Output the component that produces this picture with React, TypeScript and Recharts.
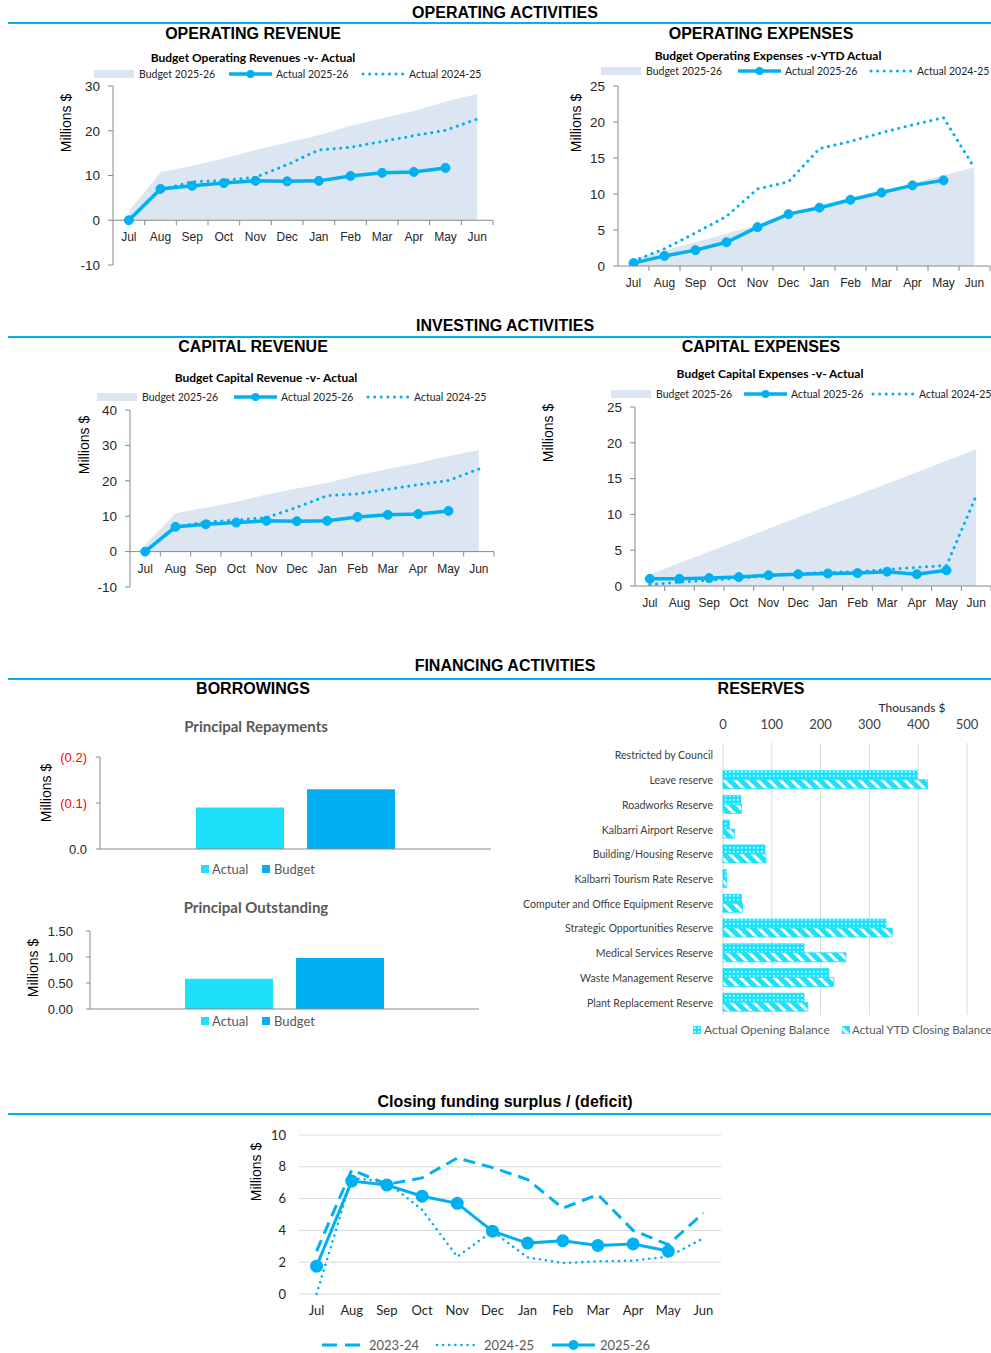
import React from "react";
import {
  ComposedChart, Area, Line, XAxis, YAxis, ReferenceLine,
  BarChart, Bar, CartesianGrid, LineChart,
} from "recharts";

const BLUE = "#00B0F0";
const CYAN = "#1FE0FA";
const BUDGET_FILL = "#DCE6F2";
const AXIS = "#898989";
const GRID = "#D9D9D9";
const ARIAL = '"Liberation Sans", Arial, sans-serif';
const CAL = 'Lato, "Open Sans", sans-serif';

const MONTHS = ["Jul", "Aug", "Sep", "Oct", "Nov", "Dec", "Jan", "Feb", "Mar", "Apr", "May", "Jun"];

// Operating revenue ($M)
const OPREV_BUDGET = [2, 10.7, 12.2, 13.8, 15.7, 17.4, 19.0, 21.1, 22.8, 24.4, 26.5, 28.2];
const OPREV_ACTUAL = [0, 7.0, 7.7, 8.3, 8.8, 8.7, 8.8, 9.9, 10.6, 10.8, 11.7, null];
const OPREV_PRIOR = [0, 6.8, 8.6, 8.9, 9.6, 12.4, 15.7, 16.3, 17.6, 18.9, 20.1, 22.6];

// Operating expenses ($M)
const OPEXP_BUDGET = [1.0, 2.2, 3.3, 4.5, 5.7, 6.8, 8.0, 9.2, 10.3, 11.5, 12.6, 13.7];
const OPEXP_ACTUAL = [0.4, 1.4, 2.2, 3.3, 5.4, 7.2, 8.1, 9.2, 10.2, 11.2, 11.9, null];
const OPEXP_PRIOR = [0.7, 2.4, 4.6, 6.9, 10.7, 11.7, 16.3, 17.3, 18.5, 19.6, 20.6, 13.6];

// Capital revenue ($M)
const CAPREV_BUDGET = [2, 10.8, 12.4, 14.1, 16.1, 17.8, 19.4, 21.6, 23.3, 25.0, 27.0, 28.7];
const CAPREV_ACTUAL = [0, 7.0, 7.7, 8.2, 8.7, 8.6, 8.7, 9.8, 10.4, 10.6, 11.5, null];
const CAPREV_PRIOR = [0, 6.9, 8.4, 8.9, 9.6, 12.5, 15.8, 16.3, 17.6, 18.9, 20.1, 23.3];

// Capital expenses ($M)
const CAPEXP_BUDGET = [1.6, 3.2, 4.8, 6.4, 8.0, 9.6, 11.2, 12.7, 14.3, 15.9, 17.5, 19.1];
const CAPEXP_ACTUAL = [1.0, 1.0, 1.1, 1.25, 1.5, 1.65, 1.75, 1.8, 2.0, 1.65, 2.2, null];
const CAPEXP_PRIOR = [0.2, 0.55, 0.8, 1.1, 1.4, 1.7, 1.9, 2.0, 2.3, 2.6, 2.85, 12.6];

// Borrowings ($M)
const REPAY_ACTUAL = -0.09;
const REPAY_BUDGET = -0.13;
const OUTSTANDING_ACTUAL = 0.58;
const OUTSTANDING_BUDGET = 0.98;

// Reserves (thousands $)
const RESERVE_NAMES = [
  "Restricted by Council", "Leave reserve", "Roadworks Reserve", "Kalbarri Airport Reserve",
  "Building/Housing Reserve", "Kalbarri Tourism Rate Reserve", "Computer and Office Equipment Reserve",
  "Strategic Opportunities Reserve", "Medical Services Reserve", "Waste Management Reserve",
  "Plant Replacement Reserve",
];
const RESERVE_OPENING = [null, 398, 36, 13, 86, 7, 38, 334, 166, 217, 166];
const RESERVE_CLOSING = [null, 419, 38, 24, 88, 8, 40, 347, 252, 227, 174];

// Closing funding surplus ($M)
const CF_2324 = [2.7, 7.8, 6.9, 7.3, 8.55, 7.95, 7.2, 5.4, 6.25, 4.0, 3.1, 5.1];
const CF_2425 = [0, 7.3, 7.05, 5.3, 2.35, 3.95, 2.3, 1.95, 2.05, 2.1, 2.35, 3.5];
const CF_2526 = [1.75, 7.1, 6.85, 6.15, 5.7, 3.95, 3.2, 3.35, 3.05, 3.15, 2.7, null];

const abs = (left: number, top: number): React.CSSProperties => ({ position: "absolute", left, top });

function Txt({ cx, cy, size, bold, color = "#000", font = ARIAL, children }: any) {
  return (
    <div style={{
      position: "absolute", left: cx, top: cy, transform: "translate(-50%,-50%)",
      whiteSpace: "nowrap", fontSize: size, fontWeight: bold ? 700 : 400, color, fontFamily: font, lineHeight: 1,
    }}>{children}</div>
  );
}

function VLabel({ cx, cy }: { cx: number; cy: number }) {
  return (
    <div style={{
      position: "absolute", left: cx, top: cy, transform: "translate(-50%,-50%) rotate(-90deg)",
      whiteSpace: "nowrap", fontSize: 14, fontFamily: ARIAL, color: "#000", lineHeight: 1,
    }}>Millions $</div>
  );
}

function Rule({ top }: { top: number }) {
  return <div style={{ position: "absolute", left: 8, top, width: 983, height: 1.5, background: BLUE }} />;
}

// offsets: start of the 2nd and 3rd legend swatches, relative to the first
function TrioLegend({ left, cy, o2 = 135, o3 = 269 }: { left: number; cy: number; o2?: number; o3?: number }) {
  const t: React.CSSProperties = { position: "absolute", top: 0, fontSize: 10.5, fontFamily: CAL, color: "#262626", lineHeight: "12px", whiteSpace: "nowrap" };
  return (
    <div style={{ position: "absolute", left, top: cy - 6, width: 400, height: 12 }}>
      <svg width={340} height={12} style={{ position: "absolute", left: 0, top: 0 }}>
        <rect x={0} y={2} width={40} height={8} fill={BUDGET_FILL} />
        <line x1={o2} x2={o2 + 43} y1={6} y2={6} stroke={BLUE} strokeWidth={3.5} />
        <circle cx={o2 + 21.5} cy={6} r={4} fill={BLUE} />
        <line x1={o3} x2={o3 + 41} y1={6} y2={6} stroke={BLUE} strokeWidth={3} strokeDasharray="0.1 6.5" strokeLinecap="round" />
      </svg>
      <span style={{ ...t, left: 45 }}>Budget 2025-26</span>
      <span style={{ ...t, left: o2 + 47 }}>Actual 2025-26</span>
      <span style={{ ...t, left: o3 + 46 }}>Actual 2024-25</span>
    </div>
  );
}

function MonthTick(props: any) {
  const { x, y, payload, dy, band, markY } = props;
  return (
    <g>
      <text x={x} y={y + dy} textAnchor="middle" dominantBaseline="central" fontSize={12} fontFamily={ARIAL} fill="#262626">
        {payload.value}
      </text>
      <line x1={x + band / 2} x2={x + band / 2} y1={y + markY} y2={y + markY + 5} stroke={AXIS} />
    </g>
  );
}

function TrendChart({ left, top, width, height, yWidth, margin, xHeight, domain, ticks, budget, actual, prior }: any) {
  const data = MONTHS.map((m, i) => ({ month: m, budget: budget[i], actual: actual[i], prior: prior[i] }));
  const plotH = height - margin.top - margin.bottom - xHeight;
  const plotW = width - yWidth - margin.left - margin.right;
  const band = plotW / 12;
  const zeroOff = -plotH * (0 - domain[0]) / (domain[1] - domain[0]);
  return (
    <div style={{ ...abs(left, top), width, height }}>
      <ComposedChart width={width} height={height} data={data} margin={margin}>
        <XAxis dataKey="month" scale="band" height={xHeight} axisLine={false} tickLine={false} tickSize={0} tickMargin={0} interval={0}
          tick={(p: any) => <MonthTick {...p} dy={zeroOff + 17} band={band} markY={zeroOff} />} />
        <YAxis width={yWidth} domain={domain} ticks={ticks} type="number" allowDataOverflow interval={0}
          axisLine={{ stroke: AXIS }} tickLine={{ stroke: AXIS }} tickSize={5} tickMargin={8}
          tick={{ fontSize: 13.5, fontFamily: ARIAL, fill: "#262626" }} />
        <Area dataKey="budget" type="linear" baseValue={0} stroke="none" fill={BUDGET_FILL} fillOpacity={1} isAnimationActive={false} />
        <ReferenceLine y={0} stroke={AXIS} />
        <Line dataKey="prior" type="linear" stroke={BLUE} strokeWidth={3} strokeDasharray="0.1 6.5" strokeLinecap="round" dot={false} activeDot={false} isAnimationActive={false} />
        <Line dataKey="actual" type="linear" stroke={BLUE} strokeWidth={3.5} dot={{ r: 4.5, fill: BLUE, stroke: BLUE, strokeWidth: 1 }} activeDot={false} isAnimationActive={false} />
      </ComposedChart>
    </div>
  );
}

function RepayTick({ x, y, payload }: any) {
  const v = payload.value;
  const label = v < 0 ? `(${Math.abs(v).toFixed(1)})` : v.toFixed(1);
  return (
    <text x={x} y={y} textAnchor="end" dominantBaseline="central" fontSize={13} fontFamily={ARIAL} fill={v < 0 ? "#FF0000" : "#262626"}>
      {label}
    </text>
  );
}

function ReserveTick({ x, y, payload }: any) {
  return (
    <text x={x} y={y} textAnchor="end" dominantBaseline="central" fontSize={10.6} fontFamily={CAL} fill="#404040">
      {payload.value}
    </text>
  );
}

function BarLegend({ cy }: { cy: number }) {
  const t: React.CSSProperties = { position: "absolute", top: cy - 8, fontSize: 13, fontFamily: CAL, color: "#595959", lineHeight: "16px" };
  return (
    <>
      <div style={{ position: "absolute", left: 201, top: cy - 4, width: 8, height: 8, background: CYAN }} />
      <span style={{ ...t, left: 212 }}>Actual</span>
      <div style={{ position: "absolute", left: 262, top: cy - 4, width: 8, height: 8, background: BLUE }} />
      <span style={{ ...t, left: 274 }}>Budget</span>
    </>
  );
}

export default function App() {
  const repayData = [{ name: "Repayments", actual: REPAY_ACTUAL, budget: REPAY_BUDGET }];
  const outData = [{ name: "Outstanding", actual: OUTSTANDING_ACTUAL, budget: OUTSTANDING_BUDGET }];
  const reserveData = RESERVE_NAMES.map((n, i) => ({ name: n, opening: RESERVE_OPENING[i], closing: RESERVE_CLOSING[i] }));
  const cfData = MONTHS.map((m, i) => ({ month: m, y2324: CF_2324[i], y2425: CF_2425[i], y2526: CF_2526[i] }));

  return (
    <div style={{ position: "absolute", left: 0, top: 0, width: 991, height: 1353, overflow: "hidden", background: "#fff" }}>
      <svg width={0} height={0} style={{ position: "absolute" }}>
        <defs>
          <pattern id="patOpen" width={4} height={4} patternUnits="userSpaceOnUse">
            <rect width={4} height={4} fill={CYAN} />
            <rect x={1} y={1} width={1.6} height={1.6} fill="#fff" />
          </pattern>
          <pattern id="patStripe" width={8} height={8} patternUnits="userSpaceOnUse" patternTransform="rotate(-45)">
            <rect width={8} height={8} fill="#fff" />
            <rect width={5} height={8} fill={CYAN} />
          </pattern>
        </defs>
      </svg>

      {/* OPERATING */}
      <Txt cx={505} cy={13} size={16} bold>OPERATING ACTIVITIES</Txt>
      <Rule top={22} />
      <Txt cx={253} cy={34} size={16} bold>OPERATING REVENUE</Txt>
      <Txt cx={761} cy={34} size={16} bold>OPERATING EXPENSES</Txt>
      <Txt cx={253} cy={58} size={12} bold font={CAL}>Budget Operating Revenues -v- Actual</Txt>
      <Txt cx={768} cy={56} size={12} bold font={CAL}>Budget Operating Expenses -v-YTD Actual</Txt>
      <TrioLegend left={94} cy={74} />
      <TrioLegend left={601} cy={71} o2={137} o3={270} />
      <VLabel cx={66} cy={123} />
      <VLabel cx={576} cy={123} />
      <TrendChart left={40} top={80} width={470} height={196} yWidth={73} xHeight={1}
        margin={{ top: 6, right: 17, bottom: 10, left: 0 }} domain={[-10, 30]} ticks={[-10, 0, 10, 20, 30]}
        budget={OPREV_BUDGET} actual={OPREV_ACTUAL} prior={OPREV_PRIOR} />
      <TrendChart left={540} top={80} width={451} height={216} yWidth={78} xHeight={30}
        margin={{ top: 6, right: 1, bottom: 0, left: 0 }} domain={[0, 25]} ticks={[0, 5, 10, 15, 20, 25]}
        budget={OPEXP_BUDGET} actual={OPEXP_ACTUAL} prior={OPEXP_PRIOR} />

      {/* INVESTING */}
      <Txt cx={505} cy={326} size={16} bold>INVESTING ACTIVITIES</Txt>
      <Rule top={336} />
      <Txt cx={253} cy={347} size={16} bold>CAPITAL REVENUE</Txt>
      <Txt cx={761} cy={347} size={16} bold>CAPITAL EXPENSES</Txt>
      <Txt cx={266} cy={378} size={12} bold font={CAL}>Budget Capital Revenue -v- Actual</Txt>
      <Txt cx={770} cy={374} size={12} bold font={CAL}>Budget Capital Expenses -v- Actual</Txt>
      <TrioLegend left={97} cy={397} o2={137} o3={271} />
      <TrioLegend left={611} cy={394} o2={133} o3={262} />
      <VLabel cx={84} cy={445} />
      <VLabel cx={548} cy={433} />
      <TrendChart left={60} top={400} width={440} height={194} yWidth={70} xHeight={1}
        margin={{ top: 10, right: 6, bottom: 6, left: 0 }} domain={[-10, 40]} ticks={[-10, 0, 10, 20, 30, 40]}
        budget={CAPREV_BUDGET} actual={CAPREV_ACTUAL} prior={CAPREV_PRIOR} />
      <TrendChart left={560} top={400} width={431} height={216} yWidth={75} xHeight={30}
        margin={{ top: 7, right: 0, bottom: 0, left: 0 }} domain={[0, 25]} ticks={[0, 5, 10, 15, 20, 25]}
        budget={CAPEXP_BUDGET} actual={CAPEXP_ACTUAL} prior={CAPEXP_PRIOR} />

      {/* FINANCING */}
      <Txt cx={505} cy={666} size={16} bold>FINANCING ACTIVITIES</Txt>
      <Rule top={678} />
      <Txt cx={253} cy={689} size={16} bold>BORROWINGS</Txt>
      <Txt cx={761} cy={689} size={16} bold>RESERVES</Txt>

      <Txt cx={256} cy={726} size={15} bold color="#595959" font={CAL}>Principal Repayments</Txt>
      <VLabel cx={46} cy={793} />
      <div style={{ ...abs(40, 750), width: 460, height: 105 }}>
        <BarChart width={460} height={105} data={repayData} margin={{ top: 7, right: 9, bottom: 5, left: 0 }} barSize={88} barGap={23}>
          <XAxis dataKey="name" height={1} tick={false} tickLine={false} axisLine={{ stroke: AXIS }} />
          <YAxis width={60} type="number" domain={[-0.2, 0]} ticks={[-0.2, -0.1, 0]} reversed interval={0}
            axisLine={{ stroke: AXIS }} tickLine={{ stroke: AXIS }} tickSize={4} tickMargin={9} tick={<RepayTick />} />
          <Bar dataKey="actual" fill={CYAN} isAnimationActive={false} />
          <Bar dataKey="budget" fill={BLUE} isAnimationActive={false} />
        </BarChart>
      </div>
      <BarLegend cy={869} />

      <Txt cx={256} cy={907} size={15} bold color="#595959" font={CAL}>Principal Outstanding</Txt>
      <VLabel cx={33} cy={968} />
      <div style={{ ...abs(30, 925), width: 460, height: 98 }}>
        <BarChart width={460} height={98} data={outData} margin={{ top: 6, right: 11, bottom: 13, left: 0 }} barSize={88} barGap={23}>
          <XAxis dataKey="name" height={1} tick={false} tickLine={false} axisLine={{ stroke: AXIS }} />
          <YAxis width={60} type="number" domain={[0, 1.5]} ticks={[0, 0.5, 1, 1.5]} interval={0}
            axisLine={{ stroke: AXIS }} tickLine={{ stroke: AXIS }} tickSize={4} tickMargin={13}
            tickFormatter={(v: number) => v.toFixed(2)} tick={{ fontSize: 13, fontFamily: ARIAL, fill: "#262626" }} />
          <Bar dataKey="actual" fill={CYAN} isAnimationActive={false} />
          <Bar dataKey="budget" fill={BLUE} isAnimationActive={false} />
        </BarChart>
      </div>
      <BarLegend cy={1021} />

      <Txt cx={912} cy={708} size={12} font={CAL} color="#262626">Thousands $</Txt>
      <div style={{ ...abs(500, 690), width: 491, height: 330 }}>
        <BarChart width={491} height={330} data={reserveData} layout="vertical"
          margin={{ top: 23, right: 24, bottom: 5, left: 0 }} barCategoryGap="12%" barGap={0}>
          <CartesianGrid horizontal={false} stroke={GRID} />
          <XAxis type="number" orientation="top" domain={[0, 500]} ticks={[0, 100, 200, 300, 400, 500]} height={30} interval={0}
            axisLine={false} tickLine={false} tickSize={0} tickMargin={14}
            tick={{ fontSize: 13, fontFamily: CAL, fill: "#404040" }} />
          <YAxis type="category" dataKey="name" width={223} axisLine={false} tickLine={false} tickSize={0} tickMargin={10}
            interval={0} tick={<ReserveTick />} />
          <Bar dataKey="opening" fill="url(#patOpen)" stroke={CYAN} strokeWidth={0.8} isAnimationActive={false} />
          <Bar dataKey="closing" fill="url(#patStripe)" stroke={CYAN} strokeWidth={0.8} isAnimationActive={false} />
        </BarChart>
      </div>
      <svg width={8} height={8} style={{ position: "absolute", left: 693, top: 1026, display: "block" }}>
        <rect width={8} height={8} fill="url(#patOpen)" stroke={CYAN} strokeWidth={0.8} />
      </svg>
      <span style={{ ...abs(704, 1022), fontSize: 12, fontFamily: CAL, color: "#595959", lineHeight: "16px", whiteSpace: "nowrap" }}>Actual Opening Balance</span>
      <svg width={8} height={8} style={{ position: "absolute", left: 842, top: 1026, display: "block" }}>
        <rect width={8} height={8} fill="url(#patStripe)" stroke={CYAN} strokeWidth={0.8} />
      </svg>
      <span style={{ ...abs(852, 1022), fontSize: 11.5, fontFamily: CAL, color: "#595959", lineHeight: "16px", whiteSpace: "nowrap" }}>Actual YTD Closing Balance</span>

      {/* CLOSING FUNDING */}
      <Txt cx={505} cy={1102} size={16} bold>Closing funding surplus / (deficit)</Txt>
      <Rule top={1113} />
      <VLabel cx={256} cy={1172} />
      <div style={{ ...abs(230, 1125), width: 500, height: 199 }}>
        <LineChart width={500} height={199} data={cfData} margin={{ top: 10, right: 9, bottom: 0, left: 0 }}>
          <CartesianGrid vertical={false} stroke={GRID} />
          <XAxis dataKey="month" scale="band" height={30} axisLine={false} tickLine={false} tickSize={0} tickMargin={12} interval={0}
            tick={{ fontSize: 13, fontFamily: CAL, fill: "#262626" }} />
          <YAxis width={69} type="number" domain={[0, 10]} ticks={[0, 2, 4, 6, 8, 10]} axisLine={false} tickLine={false} interval={0}
            tickSize={0} tickMargin={13} tick={{ fontSize: 13, fontFamily: CAL, fill: "#262626" }} />
          <Line dataKey="y2324" type="linear" stroke={BLUE} strokeWidth={3} strokeDasharray="12 7" dot={false} activeDot={false} isAnimationActive={false} />
          <Line dataKey="y2425" type="linear" stroke={BLUE} strokeWidth={2.5} strokeDasharray="0.1 6" strokeLinecap="round" dot={false} activeDot={false} isAnimationActive={false} />
          <Line dataKey="y2526" type="linear" stroke={BLUE} strokeWidth={3} dot={{ r: 5, fill: BLUE, stroke: BLUE }} activeDot={false} isAnimationActive={false} />
        </LineChart>
      </div>
      <svg width={300} height={14} style={{ position: "absolute", left: 320, top: 1338 }}>
        <line x1={2} x2={42} y1={7} y2={7} stroke={BLUE} strokeWidth={3} strokeDasharray="15 8" />
        <line x1={117} x2={157} y1={7} y2={7} stroke={BLUE} strokeWidth={2.5} strokeDasharray="0.1 6" strokeLinecap="round" />
        <line x1={232} x2={275} y1={7} y2={7} stroke={BLUE} strokeWidth={3} />
        <circle cx={253.5} cy={7} r={5} fill={BLUE} />
      </svg>
      <span style={{ ...abs(369, 1337), fontSize: 13, fontFamily: CAL, color: "#595959", lineHeight: "16px" }}>2023-24</span>
      <span style={{ ...abs(484, 1337), fontSize: 13, fontFamily: CAL, color: "#595959", lineHeight: "16px" }}>2024-25</span>
      <span style={{ ...abs(600, 1337), fontSize: 13, fontFamily: CAL, color: "#595959", lineHeight: "16px" }}>2025-26</span>
    </div>
  );
}
